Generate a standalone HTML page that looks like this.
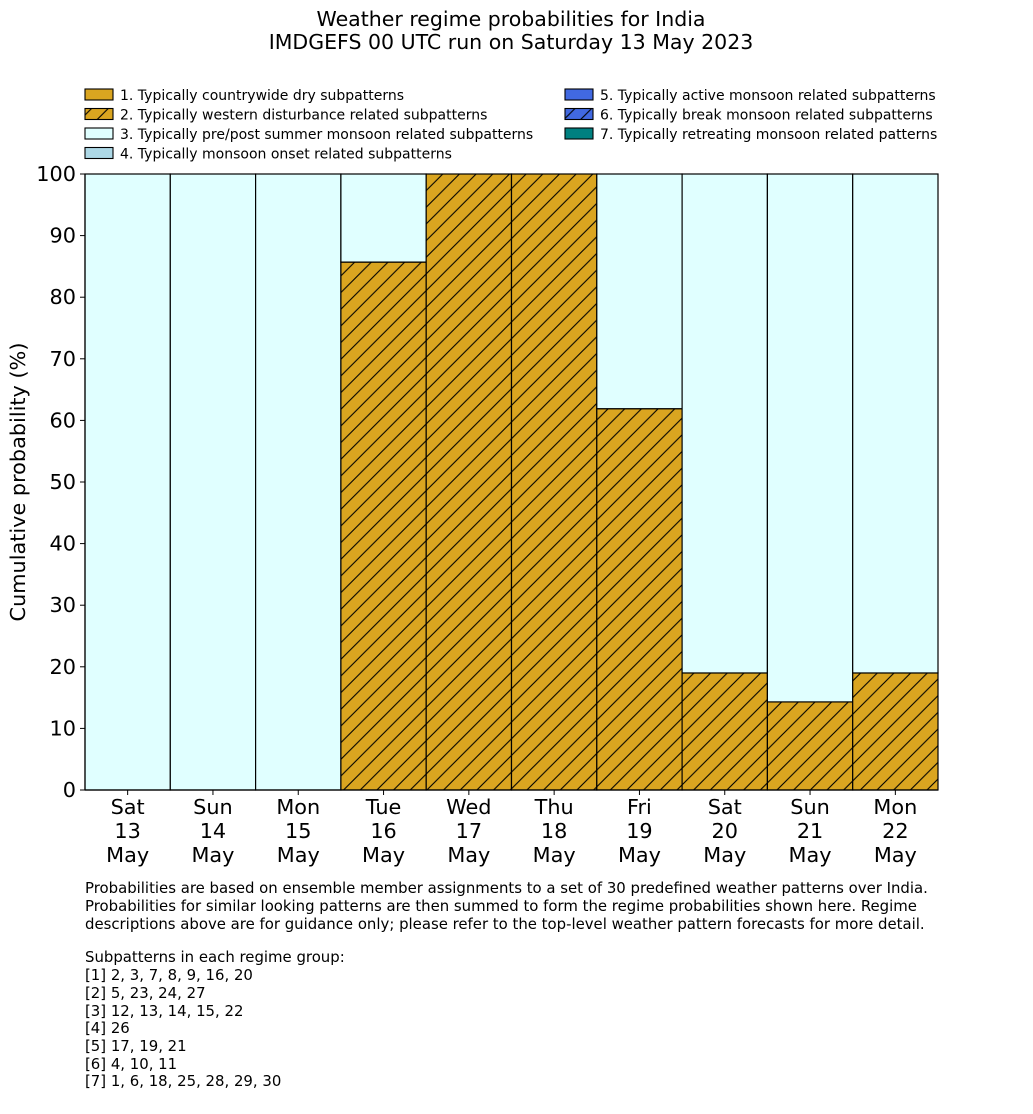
<!DOCTYPE html>
<html><head><meta charset="utf-8"><style>
html,body{margin:0;padding:0;background:#fff}
svg{display:block;font-family:"DejaVu Sans","Liberation Sans",sans-serif}
</style></head><body>
<svg id="chart" width="1033" height="1114" viewBox="0 0 1033 1114" xmlns="http://www.w3.org/2000/svg">
<defs>
<pattern id="hatch" patternUnits="userSpaceOnUse" width="16.67" height="16.67">
<rect width="16.67" height="16.67" fill="#DAA520"/>
<path d="M-2,2 L2,-2 M0,16.67 L16.67,0 M14.67,18.67 L18.67,14.67" stroke="#000" stroke-width="1.1"/>
</pattern>
<pattern id="hatchL" patternUnits="userSpaceOnUse" width="16.67" height="16.67" x="0" y="0">
<rect width="16.67" height="16.67" fill="#DAA520"/>
<path d="M-2,2 L2,-2 M0,16.67 L16.67,0 M14.67,18.67 L18.67,14.67" stroke="#000" stroke-width="1.1"/>
</pattern>
</defs>
<g font-size="20.5" text-anchor="middle" fill="#000">
<text x="511" y="26">Weather regime probabilities for India</text>
<text x="511" y="49">IMDGEFS 00 UTC run on Saturday 13 May 2023</text>
</g>
<g id="legend" font-size="14"></g>
<g id="bars"></g>
<g id="axes"></g>
<text transform="translate(25,482) rotate(-90)" text-anchor="middle" font-size="20.8">Cumulative probability (%)</text>
<g font-size="14.9" fill="#000">
<text x="85" y="893">Probabilities are based on ensemble member assignments to a set of 30 predefined weather patterns over India.</text>
<text x="85" y="911">Probabilities for similar looking patterns are then summed to form the regime probabilities shown here. Regime</text>
<text x="85" y="929">descriptions above are for guidance only; please refer to the top-level weather pattern forecasts for more detail.</text>
<text x="85" y="962">Subpatterns in each regime group:</text>
<text x="85" y="980">[1] 2, 3, 7, 8, 9, 16, 20</text>
<text x="85" y="998">[2] 5, 23, 24, 27</text>
<text x="85" y="1016">[3] 12, 13, 14, 15, 22</text>
<text x="85" y="1033">[4] 26</text>
<text x="85" y="1051">[5] 17, 19, 21</text>
<text x="85" y="1069">[6] 4, 10, 11</text>
<text x="85" y="1086">[7] 1, 6, 18, 25, 28, 29, 30</text>
</g>
</svg>
<script>
const days = ["Sat","Sun","Mon","Tue","Wed","Thu","Fri","Sat","Sun","Mon"];
const dates = ["13","14","15","16","17","18","19","20","21","22"];
const dry = [0,0,0,0,0,0,0,0,0,0];
const western = [0,0,0,85.7,100,100,61.9,19.0,14.3,19.0];
const prepost = [100,100,100,14.3,0,0,38.1,81.0,85.7,81.0];
const yTicks = [0,10,20,30,40,50,60,70,80,90,100];
const legendLabels = ["1. Typically countrywide dry subpatterns","2. Typically western disturbance related subpatterns","3. Typically pre/post summer monsoon related subpatterns","4. Typically monsoon onset related subpatterns","5. Typically active monsoon related subpatterns","6. Typically break monsoon related subpatterns","7. Typically retreating monsoon related patterns"];
const legendFills = ["#DAA520","url(#hatchL)","#E0FFFF","#ADD8E6","#4169E1","url(#hatchB)","#008080"];

const NS="http://www.w3.org/2000/svg";
const X0=85,X1=938,Y0=790,Y1=174;
const bw=(X1-X0)/days.length;
const xs=i=>X0+i*bw;
const ys=v=>Y0-(v/100)*(Y0-Y1);
function mk(tag,attrs,parent){const e=document.createElementNS(NS,tag);for(const k in attrs)e.setAttribute(k,attrs[k]);parent.appendChild(e);return e;}
const defs=document.querySelector('defs');
const pb=mk('pattern',{id:'hatchB',patternUnits:'userSpaceOnUse',width:16.67,height:16.67},defs);
mk('rect',{width:16.67,height:16.67,fill:'#4169E1'},pb);
mk('path',{d:'M-2,2 L2,-2 M0,16.67 L16.67,0 M14.67,18.67 L18.67,14.67',stroke:'#000','stroke-width':1.1},pb);

const bars=document.getElementById('bars');
const series=[{v:dry,f:'#DAA520',n:'dry'},{v:western,f:'url(#hatch)',n:'western'},{v:prepost,f:'#E0FFFF',n:'prepost'}];
for(let i=0;i<days.length;i++){
  let base=0;
  for(const s of series){
    const val=s.v[i];
    if(val>0){
      const r=mk('rect',{x:xs(i),y:ys(base+val),width:bw,height:ys(base)-ys(base+val),fill:s.f,stroke:'#000','stroke-width':1.2},bars);
      
      
    }
    base+=val;
  }
}
const axes=document.getElementById('axes');
const la=mk('line',{x1:X0,y1:Y1,x2:X0,y2:Y0,stroke:'#000','stroke-width':1.2},axes);


const lb=mk('line',{x1:X0,y1:Y0,x2:X1,y2:Y0,stroke:'#000','stroke-width':1.2},axes);


for(const t of yTicks){
  mk('line',{x1:X0-5,y1:ys(t),x2:X0,y2:ys(t),stroke:'#000','stroke-width':1},axes);
  const tx=mk('text',{x:X0-9,y:ys(t)+7,'text-anchor':'end','font-size':20.8},axes);
  tx.textContent=t;
  
  
}
for(let i=0;i<days.length;i++){
  const cx=xs(i)+bw/2;
  mk('line',{x1:cx,y1:Y0,x2:cx,y2:Y0+5,stroke:'#000','stroke-width':1},axes);
  const lines=[days[i],dates[i],'May'];
  lines.forEach((s,j)=>{
    const tx=mk('text',{x:cx,y:Y0+24+j*24,'text-anchor':'middle','font-size':20.8},axes);
    tx.textContent=s;
    
    
  });
}
const lg=document.getElementById('legend');
legendLabels.forEach((s,i)=>{
  const col=i<4?0:1, row=i<4?i:i-4;
  const x=col?565:85, y=89+row*19.5;
  const r=mk('rect',{x:x,y:y,width:28,height:11,fill:legendFills[i],stroke:'#000','stroke-width':1.1},lg);
  
  
  const t=mk('text',{x:x+35,y:y+11},lg);
  t.textContent=s;
  
  
});
</script>
</body></html>
